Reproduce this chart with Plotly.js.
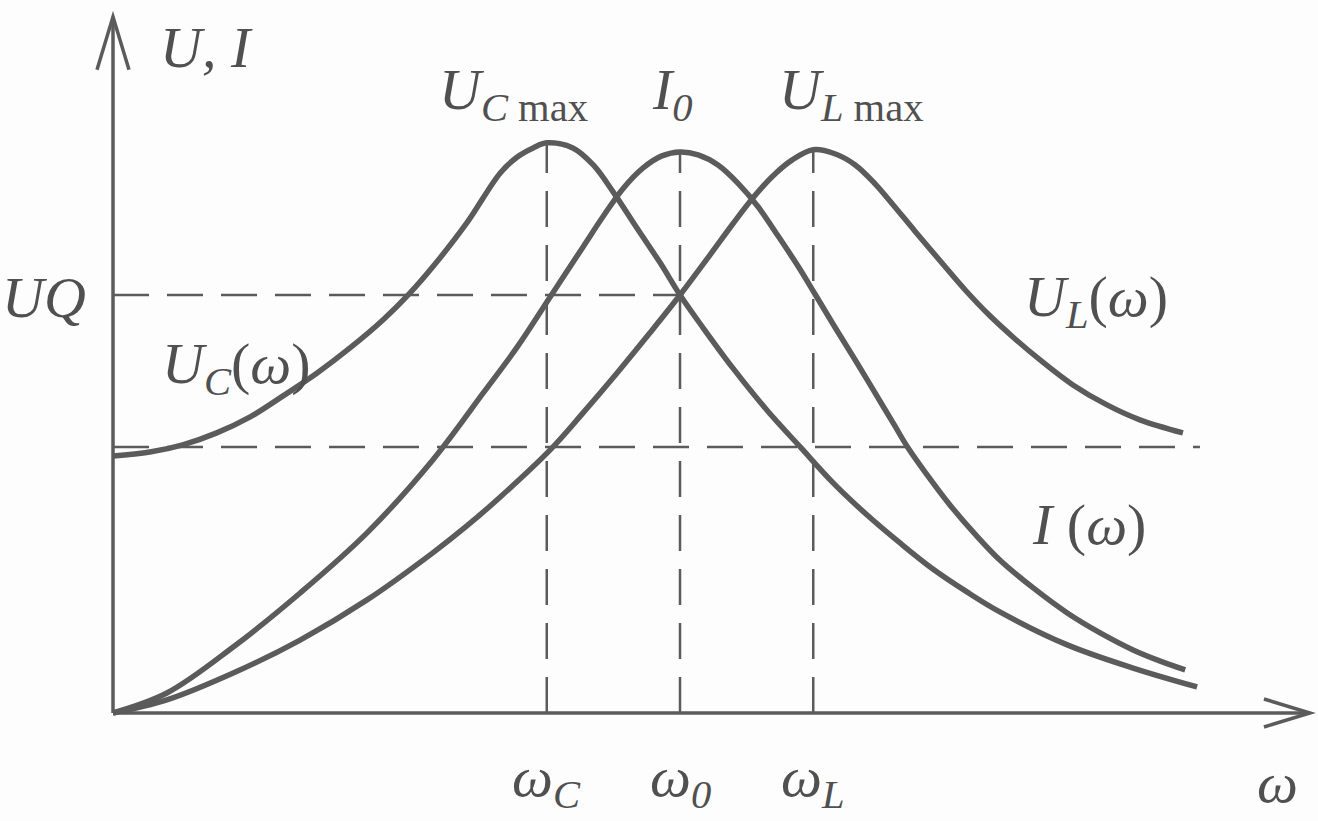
<!DOCTYPE html>
<html>
<head>
<meta charset="utf-8">
<script src="https://cdn.plot.ly/plotly-3.0.1.min.js"></script>
<style>
  html, body { margin: 0; padding: 0; background: #fdfdfd; }
  #chart { width: 1318px; height: 821px; }
</style>
</head>
<body>
<div id="chart"></div>
<script>
// Series RLC resonance curves.
// x: omega / omega0, y: voltage (current) in units of U
const ucX = [0, 0.065, 0.123, 0.183, 0.242, 0.300, 0.360, 0.418, 0.476, 0.524, 0.564, 0.624, 0.683, 0.713, 0.741,
  0.765, 0.811, 0.847, 0.882, 0.924, 0.965, 1.000, 1.041, 1.093, 1.153, 1.212, 1.270, 1.330, 1.388, 1.446, 1.506,
  1.564, 1.683, 1.799, 1.912];
const ucY = [0.966, 0.981, 1.008, 1.053, 1.113, 1.192, 1.278, 1.372, 1.477, 1.579, 1.677, 1.842, 2.030, 2.090, 2.124,
  2.143, 2.124, 2.060, 1.959, 1.823, 1.692, 1.571, 1.447, 1.297, 1.139, 1.000, 0.865, 0.744, 0.639, 0.541, 0.455,
  0.380, 0.256, 0.169, 0.098];

const iX = [0, 0.095, 0.212, 0.330, 0.448, 0.564, 0.653, 0.713, 0.771, 0.829, 0.864, 0.899, 0.935, 0.968, 1.000,
  1.032, 1.067, 1.102, 1.138, 1.173, 1.208, 1.238, 1.273, 1.309, 1.344, 1.379, 1.400, 1.441, 1.476, 1.520, 1.564,
  1.623, 1.683, 1.741, 1.799, 1.847, 1.891];
const iY = [0, 0.075, 0.248, 0.451, 0.677, 0.951, 1.203, 1.376, 1.564, 1.752, 1.865, 1.970, 2.049, 2.094, 2.109,
  2.098, 2.060, 1.992, 1.902, 1.793, 1.680, 1.575, 1.451, 1.327, 1.203, 1.079, 1.004, 0.880, 0.782, 0.673, 0.575,
  0.470, 0.376, 0.301, 0.237, 0.195, 0.162];

const ulX = [0, 0.095, 0.212, 0.330, 0.448, 0.564, 0.624, 0.683, 0.771, 0.829, 0.889, 0.947, 1.000, 1.053, 1.093,
  1.127, 1.162, 1.198, 1.235, 1.273, 1.309, 1.344, 1.379, 1.414, 1.459, 1.503, 1.547, 1.591, 1.635, 1.693, 1.753,
  1.811, 1.887];
const ulY = [0, 0.049, 0.150, 0.274, 0.425, 0.602, 0.703, 0.812, 0.989, 1.128, 1.278, 1.429, 1.571, 1.722, 1.838,
  1.932, 2.015, 2.079, 2.117, 2.102, 2.060, 1.989, 1.902, 1.812, 1.699, 1.590, 1.492, 1.406, 1.327, 1.233, 1.158,
  1.102, 1.053];

// characteristic frequencies and their peak heights
const omegaNames = ['ω<sub>C</sub>', 'ω<sub>0</sub>', 'ω<sub>L</sub>'];
const omegaVals = [0.765, 1.0, 1.235];
const peakVals = [2.143, 2.109, 2.117];

// guide levels: U and UQ
const levelU = 1.0;
const levelUQ = 1.571;

const ink = '#5b5b5b';
const textInk = '#505050';
const labelFont = { family: 'Liberation Serif, DejaVu Serif, serif', size: 58, color: textInk };

function curve(x, y) {
  return {
    x: x, y: y, type: 'scatter', mode: 'lines',
    line: { color: ink, width: 5.5, shape: 'spline', smoothing: 1 },
    hoverinfo: 'skip'
  };
}

function dashed(x, y) {
  return {
    x: x, y: y, type: 'scatter', mode: 'lines',
    line: { color: ink, width: 2.5, dash: '36px,18px' },
    hoverinfo: 'skip'
  };
}

const xEnd = 2.111;   // tip of the omega axis
const yEnd = 2.617;   // tip of the U, I axis
const uLineEnd = 1.917;

const traces = [
  dashed([0, omegaVals[1]], [levelUQ, levelUQ]),
  dashed([0, uLineEnd], [levelU, levelU]),
  ...omegaVals.map((w, i) => dashed([w, w], [0, peakVals[i]])),
  curve(ucX, ucY),
  curve(iX, iY),
  curve(ulX, ulY)
];

const shapes = [
  { type: 'line', xref: 'x', yref: 'y', x0: 0, y0: 0, x1: xEnd, y1: 0, line: { color: ink, width: 3.5 } },
  { type: 'line', xref: 'x', yref: 'y', x0: 0, y0: 0, x1: 0, y1: yEnd, line: { color: ink, width: 3.5 } },
  { type: 'path', xref: 'x', yref: 'y', xsizemode: 'pixel', ysizemode: 'pixel', xanchor: xEnd, yanchor: 0,
    path: 'M -46,14 L 0,0 L -46,-14', line: { color: ink, width: 3.5 } },
  { type: 'path', xref: 'x', yref: 'y', xsizemode: 'pixel', ysizemode: 'pixel', xanchor: 0, yanchor: yEnd,
    path: 'M -16,-53 L 0,0 L 16,-53', line: { color: ink, width: 3.5 } }
];

function label(text, x, y, xanchor) {
  return {
    text: text, x: x, y: y, xref: 'x', yref: 'y', showarrow: false,
    xanchor: xanchor || 'center', yanchor: 'middle',
    font: labelFont
  };
}

const annotations = [
  label('<i>U, I</i>', 0.079, 2.50, 'left'),
  label('<i>UQ</i>', -0.044, 1.56, 'right'),
  label('<i>U<sub>C</sub></i>(<i>ω</i>)', 0.083, 1.30, 'left'),
  label('<i>U<sub>C</sub></i><sub> max</sub>', 0.571, 2.33, 'left'),
  label('<i>I<sub>0</sub></i>', 0.947, 2.33, 'left'),
  label('<i>U<sub>L</sub></i><sub> max</sub>', 1.171, 2.33, 'left'),
  label('<i>U<sub>L</sub></i>(<i>ω</i>)', 1.603, 1.55, 'left'),
  label('<i>I</i> (<i>ω</i>)', 1.617, 0.71, 'left'),
  ...omegaNames.map((n, i) => label('<i>' + n + '</i>', omegaVals[i], -0.255, 'center')),
  label('<i>ω</i>', 2.014, -0.26, 'left')
];

const layout = {
  width: 1318,
  height: 821,
  margin: { l: 0, r: 0, t: 0, b: 0 },
  paper_bgcolor: '#fdfdfd',
  plot_bgcolor: '#fdfdfd',
  showlegend: false,
  xaxis: { range: [-0.1993, 2.1252], visible: false, fixedrange: true },
  yaxis: { range: [-0.406, 2.680], visible: false, fixedrange: true },
  shapes: shapes,
  annotations: annotations
};

Plotly.newPlot('chart', traces, layout, { displayModeBar: false, staticPlot: true });
</script>
</body>
</html>
